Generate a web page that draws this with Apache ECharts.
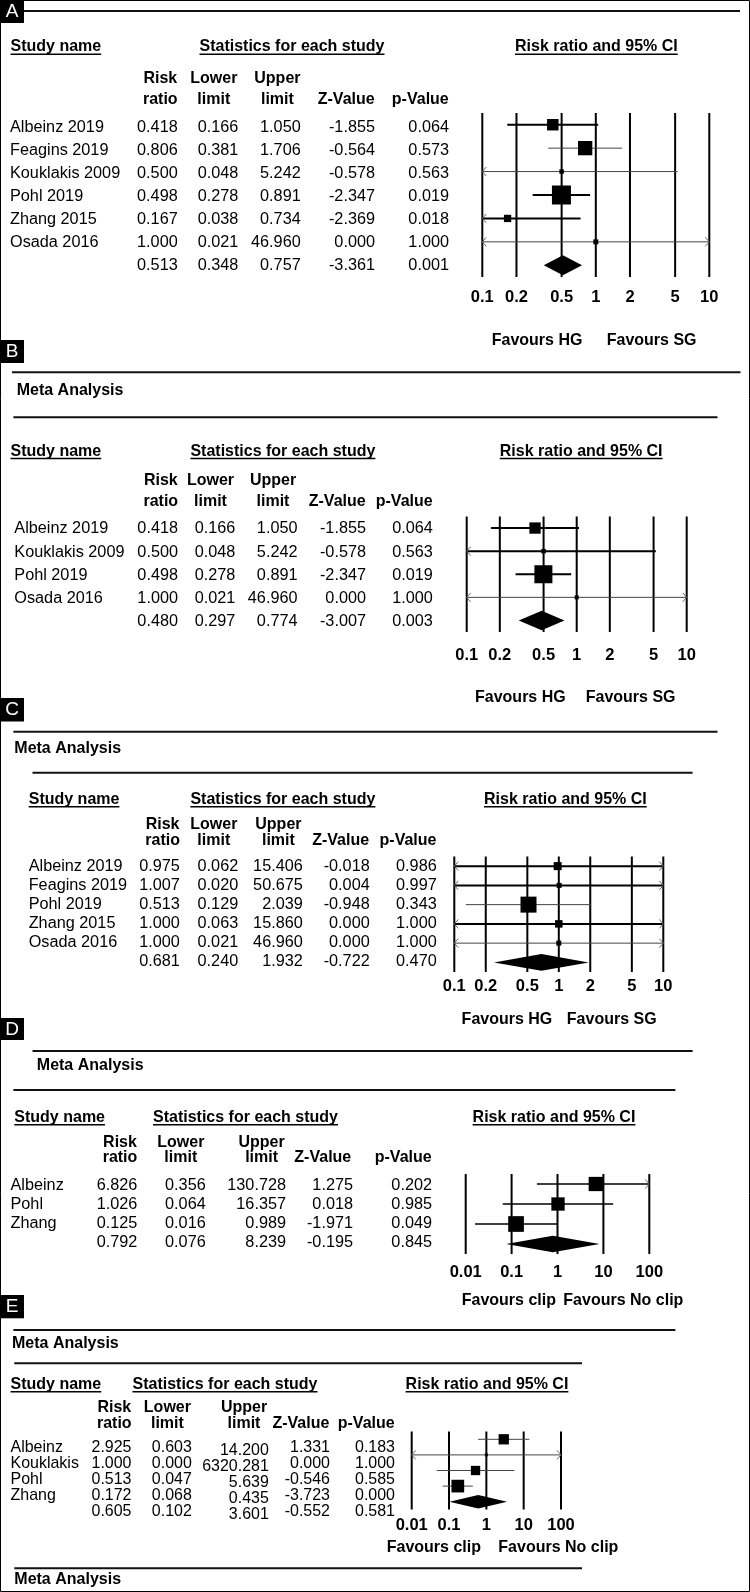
<!DOCTYPE html>
<html><head><meta charset="utf-8">
<script src="https://cdn.jsdelivr.net/npm/echarts@6/dist/echarts.min.js"></script>
<style>html,body{margin:0;padding:0;background:#fff}#c{width:750px;height:1592px}</style>
</head><body><div id="c"></div>
<script>
// ---------- DATA ----------
const secTitles = ['Study name', 'Statistics for each study', 'Risk ratio and 95% CI'];
const hdrTop = ['Risk', 'Lower', 'Upper', '', ''];
const hdrBottom = ['ratio', 'limit', 'limit', 'Z-Value', 'p-Value'];
const metaTitle = 'Meta Analysis';
const favoursHG = ['Favours HG', 'Favours SG'];
const favoursClip = ['Favours clip', 'Favours No clip'];
const tickValsHG = [0.1, 0.2, 0.5, 1, 2, 5, 10];
const tickLabelsHG = ['0.1', '0.2', '0.5', '1', '2', '5', '10'];
const tickValsClip = [0.01, 0.1, 1, 10, 100];
const tickLabelsClip = ['0.01', '0.1', '1', '10', '100'];

// Panel A
const studiesA = ['Albeinz 2019', 'Feagins 2019', 'Kouklakis 2009', 'Pohl 2019', 'Zhang 2015', 'Osada 2016'];
const rrA = [0.418, 0.806, 0.500, 0.498, 0.167, 1.000];
const lowerA = [0.166, 0.381, 0.048, 0.278, 0.038, 0.021];
const upperA = [1.050, 1.706, 5.242, 0.891, 0.734, 46.960];
const zA = [-1.855, -0.564, -0.578, -2.347, -2.369, 0.000];
const pA = [0.064, 0.573, 0.563, 0.019, 0.018, 1.000];
const weightA = [16.6, 25.7, 2.5, 45.4, 6.7, 3.1];
const summaryA = [0.513, 0.348, 0.757, -3.361, 0.001];

// Panel B
const studiesB = ['Albeinz 2019', 'Kouklakis 2009', 'Pohl 2019', 'Osada 2016'];
const rrB = [0.418, 0.500, 0.498, 1.000];
const lowerB = [0.166, 0.048, 0.278, 0.021];
const upperB = [1.050, 5.242, 0.891, 46.960];
const zB = [-1.855, -0.578, -2.347, 0.000];
const pB = [0.064, 0.563, 0.019, 1.000];
const weightB = [26.2, 4.2, 66.4, 3.3];
const summaryB = [0.480, 0.297, 0.774, -3.007, 0.003];

// Panel C
const studiesC = ['Albeinz 2019', 'Feagins 2019', 'Pohl 2019', 'Zhang 2015', 'Osada 2016'];
const rrC = [0.975, 1.007, 0.513, 1.000, 1.000];
const lowerC = [0.062, 0.020, 0.129, 0.063, 0.021];
const upperC = [15.406, 50.675, 2.039, 15.860, 46.960];
const zC = [-0.018, 0.004, -0.948, 0.000, 0.000];
const pC = [0.986, 0.997, 0.343, 1.000, 1.000];
const weightC = [15.0, 5.9, 60.1, 13.2, 5.9];
const summaryC = [0.681, 0.240, 1.932, -0.722, 0.470];

// Panel D
const studiesD = ['Albeinz', 'Pohl', 'Zhang'];
const rrD = [6.826, 1.026, 0.125];
const lowerD = [0.356, 0.064, 0.016];
const upperD = [130.728, 16.357, 0.989];
const zD = [1.275, 0.018, -1.971];
const pD = [0.202, 0.985, 0.049];
const weightD = [32.5, 28.2, 39.3];
const summaryD = [0.792, 0.076, 8.239, -0.195, 0.845];

// Panel E
const studiesE = ['Albeinz', 'Kouklakis', 'Pohl', 'Zhang'];
const rrE = [2.925, 1.000, 0.513, 0.172];
const lowerE = [0.603, 0.000, 0.047, 0.068];
const upperE = [14.200, 6320.281, 5.639, 0.435];
const zE = [1.331, 0.000, -0.546, -3.723];
const pE = [0.183, 1.000, 0.585, 0.000];
const weightE = [29.2, 2.5, 23.9, 44.4];
const summaryE = [0.605, 0.102, 3.601, -0.552, 0.581];

// ---------- LAYOUT / STYLE ----------
const FONT = '"Liberation Sans", Arial, Helvetica, sans-serif';
const NARROW = 0.94;
const panels = [
  { letter: 'A', names: studiesA, rr: rrA, lo: lowerA, hi: upperA, z: zA, p: pA, w: weightA, sum: summaryA,
    ticks: tickValsHG, tickLabels: tickLabelsHG, favours: favoursHG, axis: [0.1, 10],
    box: { y: 0, h: 23 }, rules: [[24, 740, 11]], meta: null,
    sec: { y: 46.7, x: [10.5, 199.5, 515] },
    hdr: { y: [78.3, 99.3], cx: [160.3, 213.8, 277.4, 346.2, 420.3] },
    table: { first: 127.2, step: 23, nameX: 10, right: [177.7, 238.3, 300.7, 375, 449], dy: [0, 0, 0, 0, 0], fs: 17.3 },
    plot: { left: 482.3, top: 113, width: 227, height: 164 },
    tickY: 297.7, fav: { y: 340, x: [491.7, 606.7] },
    sizeK: 2.82, diamondH: 10, lineW: [2, 1, 1, 2, 2, 1] },
  { letter: 'B', names: studiesB, rr: rrB, lo: lowerB, hi: upperB, z: zB, p: pB, w: weightB, sum: summaryB,
    ticks: tickValsHG, tickLabels: tickLabelsHG, favours: favoursHG, axis: [0.1, 10],
    box: { y: 340, h: 23 }, rules: [[12, 740.5, 372.3], [13.4, 717.5, 417.3]], meta: { x: 16.7, y: 390.7 },
    sec: { y: 451, x: [10.5, 190.4, 499.8] },
    hdr: { y: [480, 501.7], cx: [160.8, 210.5, 273, 337.2, 404.2] },
    table: { first: 528.5, step: 23.3, nameX: 14.3, right: [178, 235.3, 297.5, 366, 432.9], dy: [0, 0, 0, 0, 0], fs: 17.3 },
    plot: { left: 466.7, top: 516.5, width: 220, height: 115.5 },
    tickY: 655.7, fav: { y: 697.7, x: [475, 585.7] },
    sizeK: 2.21, diamondH: 9.7, lineW: [2, 2, 2, 1] },
  { letter: 'C', names: studiesC, rr: rrC, lo: lowerC, hi: upperC, z: zC, p: pC, w: weightC, sum: summaryC,
    ticks: tickValsHG, tickLabels: tickLabelsHG, favours: favoursHG, axis: [0.1, 10],
    box: { y: 698, h: 23.5 }, rules: [[13.4, 717.5, 731.7], [32.5, 692.6, 772.7]], meta: { x: 14.3, y: 748.3 },
    sec: { y: 799.3, x: [28.7, 190.4, 484] },
    hdr: { y: [824.3, 840], cx: [162.6, 213.8, 278.4, 340.6, 408] },
    table: { first: 866.5, step: 18.9, nameX: 28.7, right: [179.8, 238.2, 302.8, 369.7, 436.7], dy: [0, 0, 0, 0, 0], fs: 17.3 },
    plot: { left: 454.3, top: 856.5, width: 209, height: 115.5 },
    tickY: 986.7, fav: { y: 1019, x: [461.6, 566.8] },
    sizeK: 2.064, diamondH: 8.3, lineW: [2, 2, 1, 2, 1] },
  { letter: 'D', names: studiesD, rr: rrD, lo: lowerD, hi: upperD, z: zD, p: pD, w: weightD, sum: summaryD,
    ticks: tickValsClip, tickLabels: tickLabelsClip, favours: favoursClip, axis: [0.01, 100],
    box: { y: 1018, h: 22 }, rules: [[32.5, 692.6, 1051], [13.4, 675.4, 1090]], meta: { x: 36.8, y: 1065 },
    sec: { y: 1117.3, x: [14.3, 153, 472.6] },
    hdr: { y: [1142.7, 1157.7], cx: [120, 180.8, 261.6, 322.8, 403.2] },
    table: { first: 1185, step: 19.2, nameX: 10.5, right: [137.3, 205.7, 286, 353, 432], dy: [0, 0, 0, 0, 0], fs: 17.3 },
    plot: { left: 465.7, top: 1174, width: 183.6, height: 80 },
    tickY: 1272.7, fav: { y: 1300.7, x: [461.7, 563.3] },
    sizeK: 2.504, diamondH: 8.3, lineW: [1.5, 1.5, 1.5] },
  { letter: 'E', names: studiesE, rr: rrE, lo: lowerE, hi: upperE, z: zE, p: pE, w: weightE, sum: summaryE,
    ticks: tickValsClip, tickLabels: tickLabelsClip, favours: favoursClip, axis: [0.01, 100],
    box: { y: 1295, h: 23.3 }, rules: [[13.4, 675.4, 1330], [14.3, 582, 1363.3]], meta: { x: 12, y: 1343.3 },
    sec: { y: 1384.3, x: [10.5, 132.5, 405.6] },
    hdr: { y: [1407.3, 1423.3], cx: [114.3, 167.4, 244, 300.9, 366.2] },
    table: { first: 1447, step: 16, nameX: 10.5, right: [131.5, 191.8, 268.8, 330, 395], dy: [0, 0, 3, 0, 0], fs: 17 },
    plot: { left: 411.7, top: 1431.5, width: 149.3, height: 78 },
    tickY: 1525, fav: { y: 1547.7, x: [386.7, 498.3] },
    sizeK: 1.906, diamondH: 6.7, lineW: [1, 1, 1, 1] }
];
const tail = { rule: [14.3, 582, 1568.3], meta: { x: 14.3, y: 1579.3 } };

// ---------- BUILD ----------
const mctx = document.createElement('canvas').getContext('2d');
function textW(t, font) { mctx.font = font; return mctx.measureText(t).width; }
const fmt = v => v.toFixed(3);

const grid = [], xAxis = [], yAxis = [], series = [], graphic = [];

graphic.push({ type: 'rect', shape: { x: 0.5, y: 0.5, width: 749, height: 1591 }, style: { fill: null, stroke: '#000', lineWidth: 1 }, silent: true });

function addText(t, x, y, opt, sx) {
  const el = { type: 'text', silent: true, style: Object.assign({ text: t, x: x, y: y, fill: '#000', fontFamily: FONT, fontSize: 16, align: 'left', verticalAlign: 'middle' }, opt || {}) };
  if (sx) { el.scaleX = sx; el.originX = x; el.originY = y; }
  graphic.push(el);
}
function addRule(r) {
  graphic.push({ type: 'line', silent: true, shape: { x1: r[0], y1: r[2], x2: r[1], y2: r[2] }, style: { stroke: '#111', lineWidth: 2 } });
}
function narrowText(t, x, y, fs, align, dyv) {
  return { type: 'text', scaleX: NARROW, originX: x, originY: y + (dyv || 0),
    style: { text: t, x: x, y: y + (dyv || 0), fill: '#000', fontFamily: FONT, fontSize: fs, align: align, verticalAlign: 'middle' } };
}

panels.forEach((P, k) => {
  const n = P.names.length;
  graphic.push({ type: 'rect', silent: true, shape: { x: 0, y: P.box.y, width: 24, height: P.box.h }, style: { fill: '#000' } });
  addText(P.letter, 12, P.box.y + P.box.h / 2 + 0.5, { fill: '#fff', fontSize: 19, align: 'center' });
  P.rules.forEach(addRule);
  if (P.meta) addText(metaTitle, P.meta.x, P.meta.y, { fontWeight: 'bold', fontSize: 16.5 }, 0.97);
  secTitles.forEach((t, i) => {
    addText(t, P.sec.x[i], P.sec.y, { fontWeight: 'bold', fontSize: 16.5 }, 0.97);
    const w = textW(t, 'bold 16.5px ' + FONT) * 0.97;
    graphic.push({ type: 'line', silent: true, shape: { x1: P.sec.x[i], y1: P.sec.y + 7.5, x2: P.sec.x[i] + w, y2: P.sec.y + 7.5 }, style: { stroke: '#000', lineWidth: 1.5 } });
  });
  hdrTop.forEach((t, i) => { if (t) addText(t, P.hdr.cx[i], P.hdr.y[0], { fontWeight: 'bold', align: 'center', fontSize: 16.5 }, 0.97); });
  hdrBottom.forEach((t, i) => { if (t) addText(t, P.hdr.cx[i], P.hdr.y[1], { fontWeight: 'bold', align: 'center', fontSize: 16.5 }, 0.97); });
  P.favours.forEach((t, i) => addText(t, P.fav.x[i], P.fav.y, { fontWeight: 'bold', fontSize: 16.5 }, 0.97));

  const gF = grid.length;
  grid.push({ left: P.plot.left, top: P.plot.top, width: P.plot.width, height: P.plot.height, containLabel: false });
  xAxis.push({ type: 'log', logBase: 10, min: P.axis[0], max: P.axis[1], gridIndex: gF, show: false });
  yAxis.push({ type: 'value', min: -0.5, max: n + 0.5, inverse: true, gridIndex: gF, show: false });
  const gT = grid.length;
  grid.push({ left: 0, width: 470, top: P.table.first - P.table.step / 2, height: (n + 1) * P.table.step, containLabel: false });
  xAxis.push({ type: 'value', min: 0, max: 1, gridIndex: gT, show: false });
  yAxis.push({ type: 'value', min: -0.5, max: n + 0.5, inverse: true, gridIndex: gT, show: false });

  series.push({
    type: 'custom', xAxisIndex: gF, yAxisIndex: gF, silent: true, animation: false, z: 1,
    data: P.ticks.map(v => [v, 0]),
    renderItem: (params, api) => {
      const cs = params.coordSys;
      const x = api.coord([api.value(0), 0])[0];
      return { type: 'group', children: [
        { type: 'line', shape: { x1: x, y1: cs.y, x2: x, y2: cs.y + cs.height }, style: { stroke: '#000', lineWidth: 2 } },
        { type: 'text', style: { text: P.tickLabels[params.dataIndex], x: x, y: P.tickY, fill: '#000', fontFamily: FONT, fontSize: 16.5, fontWeight: 'bold', align: 'center', verticalAlign: 'middle' } }
      ] };
    }
  });

  series.push({
    type: 'custom', xAxisIndex: gF, yAxisIndex: gF, silent: true, animation: false, z: 3,
    encode: { x: 0, y: 3 },
    data: P.names.map((_, i) => [P.rr[i], P.lo[i], P.hi[i], i, P.w[i]]),
    renderItem: (params, api) => {
      const cs = params.coordSys;
      const rr = api.value(0), lo = api.value(1), hi = api.value(2), row = api.value(3), w = api.value(4);
      const y = api.coord([1, row])[1];
      const left = cs.x, right = cs.x + cs.width;
      const loClip = !(lo > P.axis[0]), hiClip = !(hi < P.axis[1]);
      const x1 = loClip ? left : api.coord([lo, row])[0];
      const x2 = hiClip ? right : api.coord([hi, row])[0];
      const lw = P.lineW[params.dataIndex];
      const col = lw >= 1.5 ? '#000' : '#444';
      const xr = api.coord([rr, row])[0];
      const s = P.sizeK * Math.sqrt(w);
      const ch = [{ type: 'line', shape: { x1: x1, y1: y, x2: x2, y2: y }, style: { stroke: col, lineWidth: lw } }];
      if (loClip) ch.push({ type: 'polyline', shape: { points: [[left + 4, y - 4.5], [left, y], [left + 4, y + 4.5]] }, style: { stroke: '#666', lineWidth: 1, fill: null } });
      if (hiClip) ch.push({ type: 'polyline', shape: { points: [[right - 4, y - 4.5], [right, y], [right - 4, y + 4.5]] }, style: { stroke: '#666', lineWidth: 1, fill: null } });
      ch.push({ type: 'rect', shape: { x: xr - s / 2, y: y - s / 2, width: s, height: s }, style: { fill: '#000' } });
      return { type: 'group', children: ch };
    }
  });

  series.push({
    type: 'custom', xAxisIndex: gF, yAxisIndex: gF, silent: true, animation: false, z: 3,
    encode: { x: 0, y: 3 },
    data: [[P.sum[0], P.sum[1], P.sum[2], n]],
    renderItem: (params, api) => {
      const row = api.value(3);
      const c = api.coord([api.value(0), row]);
      const xl = api.coord([api.value(1), row])[0];
      const xh = api.coord([api.value(2), row])[0];
      const h = P.diamondH;
      return { type: 'polygon', shape: { points: [[xl, c[1]], [c[0], c[1] - h], [xh, c[1]], [c[0], c[1] + h]] }, style: { fill: '#000' } };
    }
  });

  const rowsText = P.names.map((nm, i) => [nm, fmt(P.rr[i]), fmt(P.lo[i]), fmt(P.hi[i]), fmt(P.z[i]), fmt(P.p[i])]);
  rowsText.push(['', fmt(P.sum[0]), fmt(P.sum[1]), fmt(P.sum[2]), fmt(P.sum[3]), fmt(P.sum[4])]);
  series.push({
    type: 'custom', xAxisIndex: gT, yAxisIndex: gT, silent: true, animation: false, z: 2,
    data: rowsText.map((_, i) => [0.5, i]),
    renderItem: (params, api) => {
      const y = api.coord([0.5, api.value(1)])[1];
      const r = rowsText[params.dataIndex];
      const ch = [];
      if (r[0]) ch.push(narrowText(r[0], P.table.nameX, y, P.table.fs, 'left'));
      for (let c = 0; c < 5; c++) ch.push(narrowText(r[c + 1], P.table.right[c], y, P.table.fs, 'right', P.table.dy[c]));
      return { type: 'group', children: ch };
    }
  });
});

addRule(tail.rule);
addText(metaTitle, tail.meta.x, tail.meta.y, { fontWeight: 'bold', fontSize: 16.5 }, 0.97);

const chart = echarts.init(document.getElementById('c'), null, { renderer: 'canvas', width: 750, height: 1592 });
chart.setOption({ animation: false, backgroundColor: '#fff', grid, xAxis, yAxis, series, graphic });
</script></body></html>
